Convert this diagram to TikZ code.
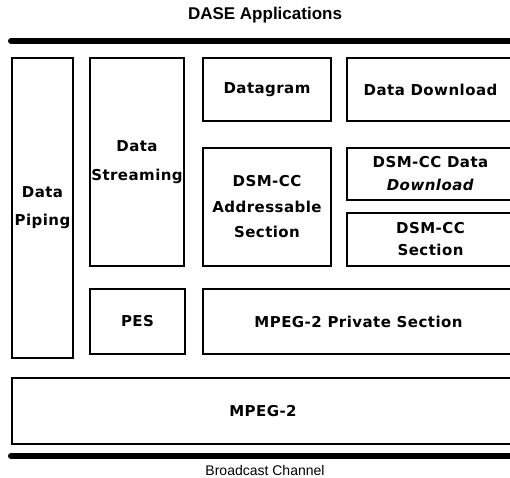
\documentclass[tikz,border=0pt]{standalone}
\usepackage{fontspec}
\setmainfont{DejaVu Sans}[LetterSpace=3]
\newfontfamily\arialfont{Liberation Sans}
\begin{document}
\begin{tikzpicture}[x=1pt,y=-1pt,
  layer/.style={draw=black, line width=1.8pt, rectangle, inner sep=0pt, align=center,
    font=\bfseries\fontsize{15}{25}\selectfont},
  bus/.style={line width=6pt, line cap=round}]
\useasboundingbox (0,0) rectangle (510,477);
\clip (0,0) rectangle (510,477);

% headline and channel captions
\node[font=\arialfont\bfseries\fontsize{17}{19}\selectfont] (dase) at (265,15) {DASE Applications};
\node[font=\arialfont\fontsize{14}{16}\selectfont] (bc) at (265,470) {Broadcast Channel};

% top and bottom buses
\coordinate (tl) at (11,41); \coordinate (tr) at (520,41);
\coordinate (bl) at (11,456); \coordinate (br) at (520,456);
\draw[bus] (tl) -- (tr);
\draw[bus] (bl) -- (br);

% protocol layers
\node[layer, minimum width=61pt, minimum height=300pt, font=\bfseries\fontsize{15}{28}\selectfont] (piping) at (42.5,208) {Data\\Piping};
\node[layer, minimum width=94pt, minimum height=208pt, font=\bfseries\fontsize{15}{29}\selectfont] (streaming) at (137,162) {Data\\Streaming};
\node[layer, minimum width=128pt, minimum height=63pt] (datagram) at (267,89.5) {Datagram};
\node[layer, minimum width=167pt, minimum height=63pt] (download) at (430.5,89.5) {Data Download};
\node[layer, minimum width=128pt, minimum height=118pt, font=\bfseries\fontsize{15}{25.5}\selectfont] (addr) at (267,207) {DSM-CC\\Addressable\\Section};
\node[layer, minimum width=167pt, minimum height=52pt, font=\bfseries\fontsize{15}{23}\selectfont] (dsmdl) at (430.5,174) {DSM-CC Data\\\textit{Download}};
\node[layer, minimum width=167pt, minimum height=53pt, font=\bfseries\fontsize{15}{22}\selectfont] (dsmsec) at (430.5,239.5) {DSM-CC\\Section};
\node[layer, minimum width=95pt, minimum height=65pt] (pes) at (137.5,321.5) {PES};
\node[layer, minimum width=311pt, minimum height=65pt] (priv) at (358.5,321.5) {MPEG-2 Private Section};
\node[layer, minimum width=502pt, minimum height=66pt] (mpeg) at (263,411) {MPEG-2};
\end{tikzpicture}
\end{document}
